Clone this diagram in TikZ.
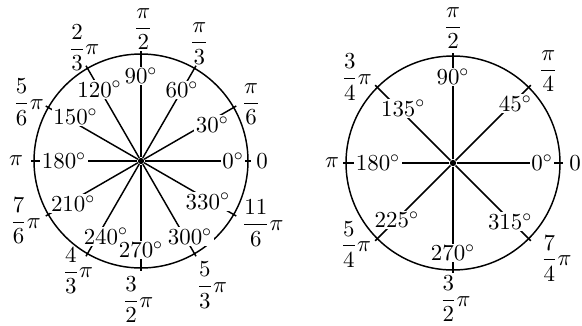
\documentclass[tikz,border=0pt]{standalone}
\usepackage{amsmath}
\usetikzlibrary{calc}

\begin{document}
\begin{tikzpicture}[
 x=0.478pt, y=0.478pt,
 rim/.style={line width=0.7pt},
 ray/.style={line width=0.7pt},
 hub/.style={circle, fill, inner sep=0pt, minimum size=3pt},
 deg/.style={fill=white, inner sep=0.7pt, font=\fontsize{10.95}{13}\selectfont},
 rad/.style={inner sep=0pt, font=\fontsize{10.95}{13}\selectfont}
]
\useasboundingbox (0,0) rectangle (582,325);

% Left circle: every 30 degrees
\node[hub] (O1) at (141,164) {};
\draw[rim] (O1.center) circle (107);
\foreach \a in {0,30,...,330} {
 \coordinate (L\a) at ($(O1)+(\a:110)$);
 \draw[ray] (O1) -- (L\a);
}

\node[deg] (deg0) at ($(O1)+(0:92)$) {$0^\circ$};
\node[deg] (deg30) at ($(O1)+(27:80)$) {$30^\circ$};
\node[deg] (deg60) at ($(O1)+(60:82)$) {$60^\circ$};
\node[deg] (deg90) at ($(O1)+(90:85)$) {$90^\circ$};
\node[deg] (deg120) at ($(O1)+(120:83)$) {$120^\circ$};
\node[deg] (deg150) at ($(O1)+(146:79)$) {$150^\circ$};
\node[deg] (deg180) at ($(O1)+(180:77)$) {$180^\circ$};
\node[deg] (deg210) at ($(O1)+(212:80)$) {$210^\circ$};
\node[deg] (deg240) at ($(O1)+(245:83)$) {$240^\circ$};
\node[deg] (deg270) at ($(O1)+(270:89)$) {$270^\circ$};
\node[deg] (deg300) at ($(O1)+(303:90)$) {$300^\circ$};
\node[deg] (deg330) at ($(O1)+(329:78)$) {$330^\circ$};

\node[rad] (rad0) at ($(O1)+(0:121)$) {$0$};
\node[rad] (rad30) at ($(O1)+(27.4:124)$) {$\dfrac{\pi}{6}$};
\node[rad] (rad60) at ($(O1)+(63.6:131)$) {$\dfrac{\pi}{3}$};
\node[rad] (rad90) at ($(O1)+(89:132)$) {$\dfrac{\pi}{2}$};
\node[rad] (rad120) at ($(O1)+(116.6:127)$) {$\dfrac{2}{3}\pi$};
\node[rad] (rad150) at ($(O1)+(152.4:127)$) {$\dfrac{5}{6}\pi$};
\node[rad] (rad180) at ($(O1)+(180:125)$) {$\pi$};
\node[rad] (rad210) at ($(O1)+(207.4:130)$) {$\dfrac{7}{6}\pi$};
\node[rad] (rad240) at ($(O1)+(240:126.5)$) {$\dfrac{4}{3}\pi$};
\node[rad] (rad270) at ($(O1)+(268.8:139)$) {$\dfrac{3}{2}\pi$};
\node[rad] (rad300) at ($(O1)+(299.7:143)$) {$\dfrac{5}{3}\pi$};
\node[rad] (rad330) at ($(O1)+(333:136.6)$) {$\dfrac{11}{6}\pi$};

% Right circle: every 45 degrees
\node[hub] (O2) at (453,162) {};
\draw[rim] (O2.center) circle (107);
\foreach \a in {0,45,...,315} {
 \coordinate (R\a) at ($(O2)+(\a:110)$);
 \draw[ray] (O2) -- (R\a);
}

\node[deg] (qdeg0) at ($(O2)+(0:89)$) {$0^\circ$};
\node[deg] (qdeg45) at ($(O2)+(43.6:86)$) {$45^\circ$};
\node[deg] (qdeg90) at ($(O2)+(90:86)$) {$90^\circ$};
\node[deg] (qdeg135) at ($(O2)+(132.3:74)$) {$135^\circ$};
\node[deg] (qdeg180) at ($(O2)+(180:75)$) {$180^\circ$};
\node[deg] (qdeg225) at ($(O2)+(225.4:80)$) {$225^\circ$};
\node[deg] (qdeg270) at ($(O2)+(270:90)$) {$270^\circ$};
\node[deg] (qdeg315) at ($(O2)+(314.2:82)$) {$315^\circ$};

\node[rad] (qrad0) at ($(O2)+(0:122)$) {$0$};
\node[rad] (qrad45) at ($(O2)+(44:132.5)$) {$\dfrac{\pi}{4}$};
\node[rad] (qrad90) at ($(O2)+(90:135)$) {$\dfrac{\pi}{2}$};
\node[rad] (qrad135) at ($(O2)+(138.3:129)$) {$\dfrac{3}{4}\pi$};
\node[rad] (qrad180) at ($(O2)+(180:121)$) {$\pi$};
\node[rad] (qrad225) at ($(O2)+(219.9:126.7)$) {$\dfrac{5}{4}\pi$};
\node[rad] (qrad270) at ($(O2)+(271:136)$) {$\dfrac{3}{2}\pi$};
\node[rad] (qrad315) at ($(O2)+(317.3:140.5)$) {$\dfrac{7}{4}\pi$};

\end{tikzpicture}
\end{document}
